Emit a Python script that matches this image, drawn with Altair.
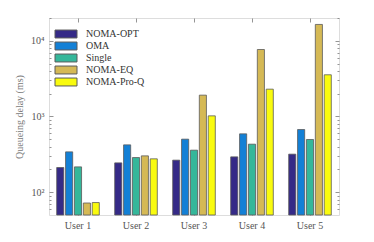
import altair as alt
import pandas as pd

users = ["User 1", "User 2", "User 3", "User 4", "User 5"]
schemes = ["NOMA-OPT", "OMA", "Single", "NOMA-EQ", "NOMA-Pro-Q"]
noma_opt = [212, 244, 265, 293, 318]
oma = [341, 422, 502, 590, 673]
single = [216, 287, 359, 431, 497]
noma_eq = [72, 302, 1914, 7670, 16440]
noma_proq = [73, 276, 1020, 2296, 3556]
colors = ["#352a87", "#1380d6", "#35b79a", "#d5b955", "#f9fb0e"]
major_ticks = [100, 1000, 10000]
minor_ticks = [60, 70, 80, 90, 200, 300, 400, 500, 600, 700, 800, 900,
               2000, 3000, 4000, 5000, 6000, 7000, 8000, 9000, 20000]

series = [noma_opt, oma, single, noma_eq, noma_proq]
rows = []
for s, vals in zip(schemes, series):
    for u, v in zip(users, vals):
        rows.append({"user": u, "scheme": s, "delay": v})
df = pd.DataFrame(rows)

W, H = 290, 197
FONT = "Liberation Serif, DejaVu Serif, serif"
GRAY = "#7a7a7a"

xscale = alt.Scale(paddingInner=0.25, paddingOuter=0.125)
yscale = alt.Scale(type="log", domain=[50, 20000], nice=False)
xoff = alt.XOffset("scheme:N", sort=schemes, scale=alt.Scale(paddingInner=0.2, paddingOuter=0.05))


def ghost(xaxis, yaxis):
    return alt.Chart(df).mark_bar(opacity=0).encode(
        x=alt.X("user:N", sort=users, scale=xscale, axis=xaxis),
        xOffset=xoff,
        y=alt.Y("delay:Q", scale=yscale, axis=yaxis, stack=None),
    )


bars = alt.Chart(df).mark_bar(stroke="#5a5a5a", strokeWidth=0.8).encode(
    x=alt.X("user:N", sort=users, scale=xscale,
            axis=alt.Axis(title=None, orient="bottom", ticks=False, domain=False,
                          labelAngle=0, labelPadding=5, labelFont=FONT,
                          labelFontSize=10, labelColor="#555")),
    xOffset=xoff,
    y=alt.Y("delay:Q", scale=yscale, stack=None,
            axis=alt.Axis(title="Queueing delay (ms)", orient="left", values=major_ticks,
                          ticks=False, domain=False, grid=False, labelPadding=5,
                          labelExpr="datum.value == 100 ? '10²' : datum.value == 1000 ? '10³' : '10⁴'",
                          labelFont=FONT, labelFontSize=10, labelColor="#555",
                          titleFont=FONT, titleFontSize=10, titleColor=GRAY,
                          titleFontWeight="normal", titlePadding=6)),
    color=alt.Color("scheme:N", sort=schemes,
                    scale=alt.Scale(domain=schemes, range=colors),
                    legend=alt.Legend(title=None, orient="none", legendX=11, legendY=10,
                                      symbolType="M-2,-0.72L2,-0.72L2,0.72L-2,0.72Z",
                                      symbolSize=121, symbolStrokeColor="#5a5a5a",
                                      symbolStrokeWidth=1, symbolOpacity=1,
                                      labelFont=FONT, labelFontSize=10, labelColor="#333",
                                      rowPadding=0, labelOffset=14, padding=0)),
)

ax_common = dict(labels=False, domain=False, grid=False, title=None, tickColor=GRAY, tickWidth=0.8)

g1 = ghost(alt.Axis(orient="top", offset=-H, tickSize=4, **ax_common),
           alt.Axis(orient="right", offset=-W, values=major_ticks, tickSize=4, **ax_common))
g2 = ghost(alt.Axis(orient="bottom", offset=-H, tickSize=4, **ax_common),
           alt.Axis(orient="right", offset=-W, values=minor_ticks, tickSize=2, **ax_common))
g3 = ghost(None, alt.Axis(orient="left", offset=-W, values=major_ticks, tickSize=4, **ax_common))
g4 = ghost(None, alt.Axis(orient="left", offset=-W, values=minor_ticks, tickSize=2, **ax_common))

chart = alt.layer(bars, g1, g2, g3, g4).resolve_axis(
    x="independent", y="independent"
).properties(
    width=W, height=H,
    autosize=alt.AutoSizeParams(type="none"),
    padding={"left": 41, "top": 10, "right": 20, "bottom": 20},
).configure_view(stroke=GRAY, strokeWidth=1).configure(background="white")

chart.save("out.html", embed_options={"renderer": "svg", "actions": False})
